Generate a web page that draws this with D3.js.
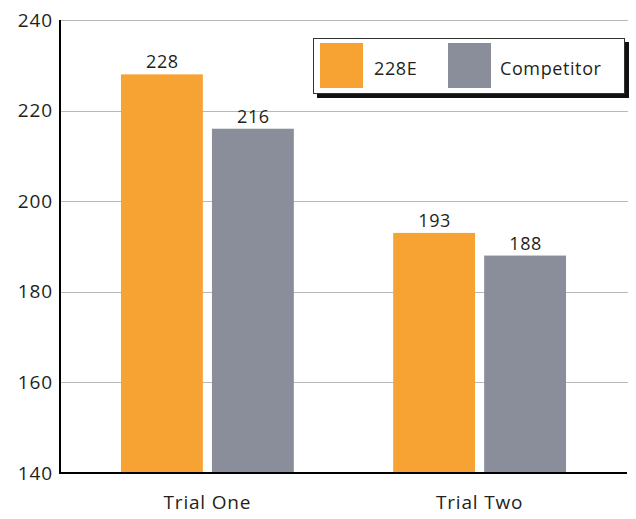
<!DOCTYPE html>
<html><head><meta charset="utf-8">
<script src="https://cdn.jsdelivr.net/npm/d3@7"></script>
<style>body{margin:0;background:#fff}svg{display:block}text{font-family:"Open Sans",sans-serif;fill:#231f20}</style>
</head><body>
<script>
const categories = ["Trial One", "Trial Two"];
const seriesNames = ["228E", "Competitor"];
const values228E = [228, 193];
const valuesCompetitor = [216, 188];
const yTicks = [140, 160, 180, 200, 220, 240];
const colors = ["#f7a334", "#898e9a"];

(function () {
const W = 636, H = 519;
const svg = d3.select("body").append("svg").attr("width", W).attr("height", H);
const pLeft = 60, pRight = 627, pTop = 20, pBottom = 473;

const y = d3.scaleLinear().domain([140, 240]).range([pBottom, pTop]);
const x0 = d3.scaleBand().domain(categories).range([pLeft, pRight]).paddingInner(0.365).paddingOuter(0.224);
const x1 = d3.scaleBand().domain(seriesNames).range([0, x0.bandwidth()]).paddingInner(0.1);

const data = categories.map((c, i) => ({cat: c, vals: [values228E[i], valuesCompetitor[i]]}));

// gridlines
svg.append("g").selectAll("line").data(yTicks.filter(t => t > 140)).join("line")
  .attr("x1", pLeft).attr("x2", pRight + 1).attr("y1", d => Math.round(y(d)) + 0.5).attr("y2", d => Math.round(y(d)) + 0.5)
  .attr("stroke", "#b8b8b8").attr("stroke-width", 1);

// bars
const g = svg.append("g").selectAll("g").data(data).join("g")
  .attr("transform", d => `translate(${x0(d.cat)},0)`);
g.selectAll("rect").data(d => d.vals.map((v, j) => ({s: seriesNames[j], v, j}))).join("rect")
  .attr("x", d => x1(d.s)).attr("width", x1.bandwidth())
  .attr("y", d => y(d.v)).attr("height", d => y(140) - y(d.v))
  .attr("fill", d => colors[d.j]);
g.selectAll("text").data(d => d.vals.map((v, j) => ({s: seriesNames[j], v, j}))).join("text")
  .attr("x", d => x1(d.s) + x1.bandwidth() / 2 + 0.5).attr("y", d => y(d.v) - 6)
  .attr("text-anchor", "middle").attr("font-size", 18).attr("letter-spacing", 0.6).text(d => d.v);

// axes
const yAxis = d3.axisLeft(y).tickValues(yTicks).tickSize(0).tickPadding(7);
const ya = svg.append("g").attr("transform", `translate(${pLeft},0)`).call(yAxis);
ya.select(".domain").remove();
ya.selectAll("text").attr("font-size", 19).attr("letter-spacing", 0.9).style("font-family", "'Open Sans',sans-serif").attr("fill", "#231f20");

const xAxis = d3.axisBottom(x0).tickSize(0).tickPadding(23);
const xa = svg.append("g").attr("transform", `translate(0,${pBottom})`).call(xAxis);
xa.select(".domain").remove();
xa.selectAll("text").attr("font-size", 19).attr("letter-spacing", 0.8).style("font-family", "'Open Sans',sans-serif").attr("fill", "#231f20");

svg.append("line").attr("x1", pLeft).attr("x2", pLeft).attr("y1", pTop).attr("y2", pBottom + 1)
  .attr("stroke", "#000").attr("stroke-width", 2);
svg.append("line").attr("x1", pLeft - 1).attr("x2", pRight).attr("y1", pBottom).attr("y2", pBottom)
  .attr("stroke", "#000").attr("stroke-width", 2);

// legend
const lg = svg.append("g");
lg.append("rect").attr("x", 317).attr("y", 42).attr("width", 312).attr("height", 56).attr("fill", "#111");
lg.append("rect").attr("x", 313.5).attr("y", 38.5).attr("width", 311).attr("height", 55).attr("fill", "#fff").attr("stroke", "#333").attr("stroke-width", 1);
const legX = [320, 448], legTX = [374, 500];
seriesNames.forEach((s, i) => {
  lg.append("rect").attr("x", legX[i]).attr("y", 43).attr("width", 43).attr("height", 45).attr("fill", colors[i]);
  lg.append("text").attr("x", legTX[i]).attr("y", 75).attr("font-size", 18).attr("letter-spacing", 0.6).text(s);
});
})();
</script>
</body></html>
